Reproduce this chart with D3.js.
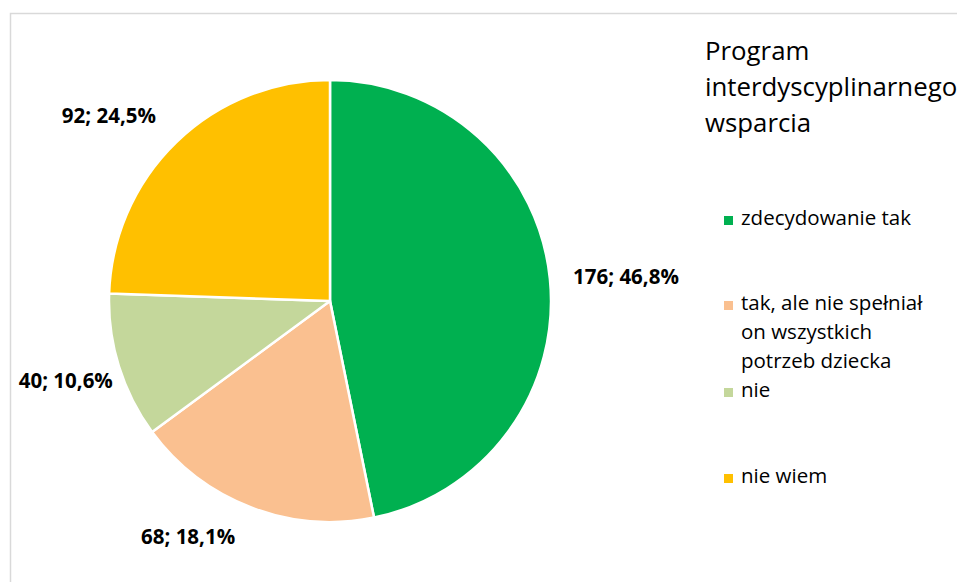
<!DOCTYPE html>
<html>
<head>
<meta charset="utf-8">
<script src="https://cdn.jsdelivr.net/npm/d3@7"></script>
<style>
  html, body { margin: 0; padding: 0; background: #fff; }
  svg { display: block; }
  text { font-family: "Open Sans", Lato, sans-serif; fill: #000; }
</style>
</head>
<body>
<svg id="chart" width="957" height="582"></svg>
<script>
// Categories, counts and slice colours
const categories = ["zdecydowanie tak", "tak, ale nie spełniał on wszystkich potrzeb dziecka", "nie", "nie wiem"];
const counts = [176, 68, 40, 92];
const percents = ["46,8%", "18,1%", "10,6%", "24,5%"];
const colors = ["#00B050", "#FAC090", "#C4D79B", "#FFC000"];
const legendLines = [["zdecydowanie tak"], ["tak, ale nie spełniał", "on wszystkich", "potrzeb dziecka"], ["nie"], ["nie wiem"]];
const titleLines = ["Program", "interdyscyplinarnego", "wsparcia"];

const W = 957, H = 582;
const svg = d3.select("#chart");

// chart frame (runs past the right and bottom edges)
svg.append("rect")
  .attr("x", 10.5).attr("y", 13.5)
  .attr("width", 1000).attr("height", 1000)
  .attr("fill", "none").attr("stroke", "#d9d9d9").attr("stroke-width", 1.5);

const cx = 330, cy = 301, r = 221;
const data = categories.map((c, i) => ({ cat: c, value: counts[i], pct: percents[i], color: colors[i] }));

const pie = d3.pie().sort(null).value(d => d.value);
const arc = d3.arc().innerRadius(0).outerRadius(r);
const arcs = pie(data);

const g = svg.append("g").attr("transform", `translate(${cx},${cy})`);
g.selectAll("path.slice")
  .data(arcs)
  .join("path")
  .attr("class", "slice")
  .attr("d", arc)
  .attr("fill", d => d.data.color)
  .attr("stroke", "#fff")
  .attr("stroke-width", 2.5)
  .attr("stroke-linejoin", "round");

// data labels placed outside each slice along its mid-angle
const labelRadius = 285;
const labelNudge = [[12.4, 5], [-39.5, -29.4], [8, -4.1], [-23, 20.4]];
g.selectAll("text.lbl")
  .data(arcs)
  .join("text")
  .attr("class", "lbl")
  .attr("text-anchor", "middle")
  .attr("font-weight", "bold")
  .attr("font-size", 20.5)
  .attr("x", (d, i) => Math.sin((d.startAngle + d.endAngle) / 2) * labelRadius + labelNudge[i][0])
  .attr("y", (d, i) => -Math.cos((d.startAngle + d.endAngle) / 2) * labelRadius + labelNudge[i][1] + 6.5)
  .text(d => `${d.data.value}; ${d.data.pct}`);

// title
const title = svg.append("text").attr("font-size", 25.8);
titleLines.forEach((t, i) => {
  title.append("tspan").attr("x", 705).attr("y", 60 + i * 36).text(t);
});

// legend
const legendY = [225, 310, 397, 483];
const lg = svg.append("g");
data.forEach((d, i) => {
  lg.append("rect")
    .attr("x", 724).attr("y", legendY[i] - 9)
    .attr("width", 9).attr("height", 9)
    .attr("fill", d.color);
  const t = lg.append("text").attr("font-size", 20.5);
  legendLines[i].forEach((line, j) => {
    t.append("tspan").attr("x", 741).attr("y", legendY[i] + j * 29).text(line);
  });
});
</script>
</body>
</html>
